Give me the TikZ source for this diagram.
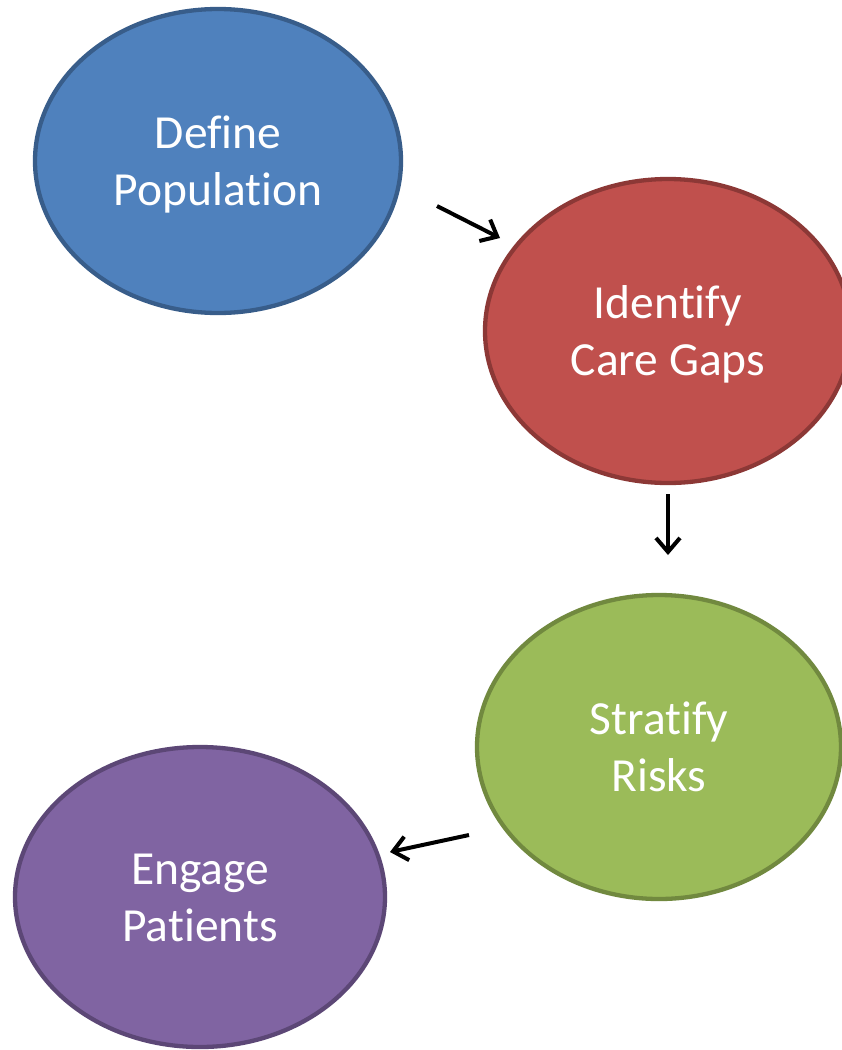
\documentclass[tikz,border=0pt]{standalone}
\usepackage{fontspec}
\setmainfont[Ligatures=NoCommon]{Carlito}
\usetikzlibrary{arrows.meta,shapes.geometric}
\definecolor{bfill}{HTML}{4F81BD}\definecolor{bline}{HTML}{385D8A}
\definecolor{rfill}{HTML}{C0504D}\definecolor{rline}{HTML}{8C3836}
\definecolor{gfill}{HTML}{9BBB59}\definecolor{gline}{HTML}{71893F}
\definecolor{pfill}{HTML}{8064A2}\definecolor{pline}{HTML}{5C4776}
\tikzset{
  stage/.style={ellipse, line width=4.3pt, inner sep=0pt, align=center,
    text=white, font=\fontsize{47.5}{57}\selectfont,
    text height=90pt, text depth=2pt},
  flow/.style={line width=4pt, -{Straight Barb[length=14pt,width=24pt]}}
}
\begin{document}
\begin{tikzpicture}[x=1pt,y=-1pt]
\useasboundingbox (0,0) rectangle (842,1050);
\fill[white] (0,0) rectangle (842,1050);
\node[stage, fill=bfill, draw=bline, minimum width=366pt, minimum height=304pt] (define) at (218,161) {Define\\Population};
\node[stage, fill=rfill, draw=rline, minimum width=366pt, minimum height=304pt] (identify) at (668,331) {Identify\\Care Gaps};
\node[stage, fill=gfill, draw=gline, minimum width=364pt, minimum height=304pt] (stratify) at (659,747) {Stratify\\Risks};
\node[stage, fill=pfill, draw=pline, minimum width=370pt, minimum height=300pt] (engage) at (200,897) {Engage\\Patients};
\coordinate (a1s) at (437,206);
\coordinate (a1e) at (500,238);
\coordinate (a2s) at (668,494);
\coordinate (a2e) at (668,555);
\coordinate (a3s) at (469,835);
\coordinate (a3e) at (390,852);
\draw[flow] (a1s) -- (a1e);
\draw[flow] (a2s) -- (a2e);
\draw[flow] (a3s) -- (a3e);
\end{tikzpicture}
\end{document}
